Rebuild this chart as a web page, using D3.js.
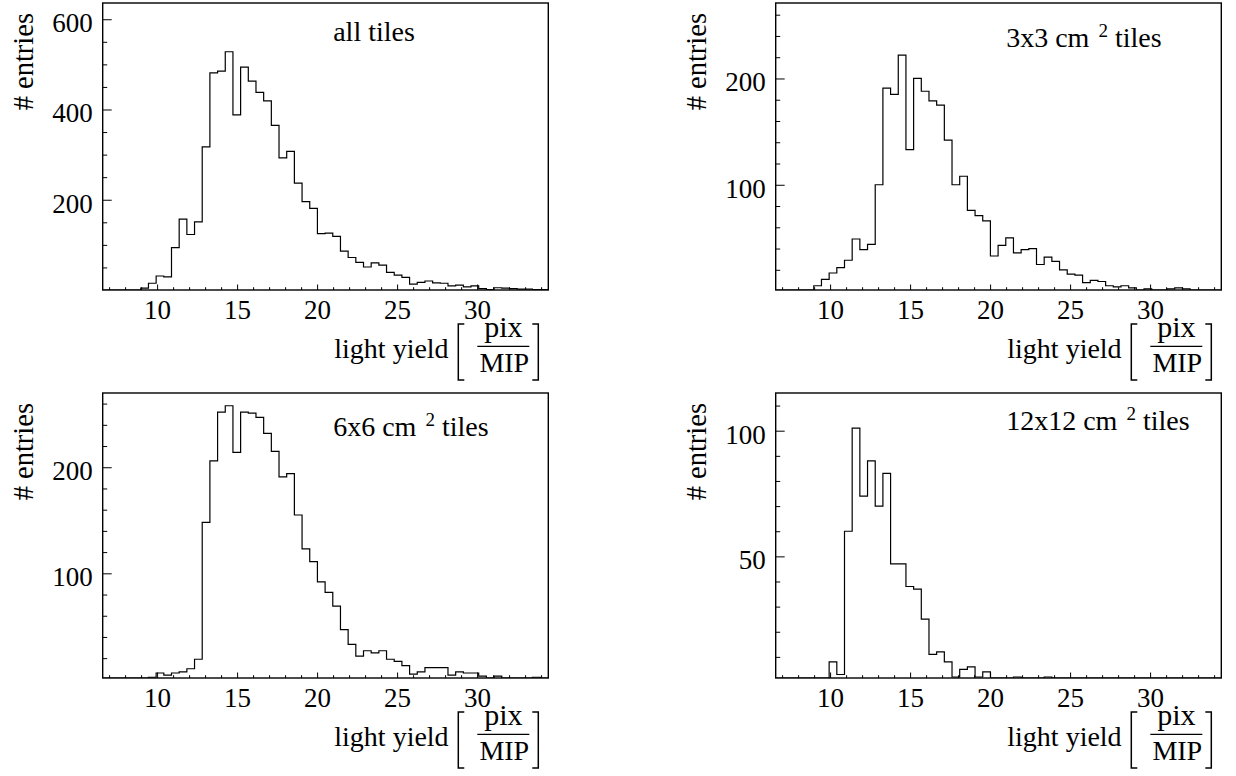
<!DOCTYPE html>
<html><head><meta charset="utf-8">
<script src="https://cdn.jsdelivr.net/npm/d3@7"></script>
<style>
body{margin:0;background:#fff}
svg{display:block}
text{font-family:"Liberation Serif","Times New Roman",serif;fill:#000}
</style>
</head><body>
<svg id="chart" width="1236" height="776"></svg>
<script>
// ---- data ----
const binStart = 8.98;   // lower edge of first listed bin (pix/MIP)
const binWidth = 0.48;   // bin width (pix/MIP)

const countsAll = [4,15,31,29,94,157,123,151,317,481,485,528,388,494,463,438,419,365,293,307,237,196,181,125,126,119,86,72,61,51,60,55,39,33,28,13,17,20,16,15,9,11,7,9,3,1,5,4,3,2,2,1,1,1];
const counts3x3 = [5,11,17,22,29,49,39,44,100,191,185,222,133,200,188,179,175,142,100,108,76,71,66,33,43,50,36,39,40,25,32,28,20,16,15,8,10,9,5,4,5,3,1,2,0,0,2,3,2,1,1,0,0,0];
const counts6x6 = [0,2,6,4,6,7,10,19,148,206,252,258,214,252,251,247,232,215,191,194,155,123,111,92,82,69,47,33,22,27,25,27,19,17,13,5,7,11,11,11,4,7,6,6,3,1,3,1,1,1,1,2,0,0];
const counts12x12 = [0,0,8,3,60,101,74,88,70,83,47,47,38,37,25,11,12,8,2,5,6,2,4,0,0,0,2,0,0,0,2,0,0,0,0,0,0,0,0,0,0,0,0,0,0,0,0,0,0,0,0,0,0,0];

const xDomain = [6.6, 34.45];
const xMajorTicks = [10, 15, 20, 25, 30];
const xMinorTicks = [7,8,9,11,12,13,14,16,17,18,19,21,22,23,24,26,27,28,29,31,32,33,34];

const panelTitles = ["all tiles", "3x3 cm", "6x6 cm", "12x12 cm"];
const panelTitleSup = [null, "2", "2", "2"];
const panelTitleTail = [null, "tiles", "tiles", "tiles"];

const yDomains = [[0, 636], [1, 271], [1.3, 270], [1.6, 115]];
const yMajorTicks = [[200, 400, 600], [100, 200], [100, 200], [50, 100]];
const yMinorTicks = [
  [50, 100, 150, 250, 300, 350, 450, 500, 550],
  [20, 40, 60, 80, 120, 140, 160, 180, 220, 240, 260],
  [20, 40, 60, 80, 120, 140, 160, 180, 220, 240, 260],
  [10, 20, 30, 40, 60, 70, 80, 90, 110]
];
const seriesList = [countsAll, counts3x3, counts6x6, counts12x12];

const yTitle = "# entries";
const xTitle = "light yield";
const xUnitNum = "pix";
const xUnitDen = "MIP";

// ---- layout ----
const frames = [
  {x0: 102.7, x1: 548.3, y0: 3, y1: 290},
  {x0: 775.7, x1: 1221.3, y0: 3, y1: 290},
  {x0: 102.7, x1: 548.3, y0: 393, y1: 678},
  {x0: 775.7, x1: 1221.3, y0: 393, y1: 678}
];
const titleBaseline = [37.7, 43.7, 43.4, 37];

const svg = d3.select("#chart");
svg.append("rect").attr("width", 1236).attr("height", 776).attr("fill", "#fff");

frames.forEach((f, i) => {
  const g = svg.append("g");
  const x = d3.scaleLinear().domain(xDomain).range([f.x0, f.x1]);
  const y = d3.scaleLinear().domain(yDomains[i]).range([f.y1, f.y0]).clamp(true);

  // clip
  const cid = "clip" + i;
  svg.append("clipPath").attr("id", cid).append("rect")
    .attr("x", f.x0).attr("y", f.y0).attr("width", f.x1 - f.x0).attr("height", f.y1 - f.y0);

  // histogram
  const counts = seriesList[i];
  const pts = [[xDomain[0], 0]];
  counts.forEach((c, k) => pts.push([binStart + k * binWidth, c]));
  pts.push([binStart + counts.length * binWidth, 0]);
  const line = d3.line().x(d => x(d[0])).y(d => y(d[1])).curve(d3.curveStepAfter);
  g.append("path").attr("d", line(pts)).attr("fill", "none")
    .attr("stroke", "#000").attr("stroke-width", 1.2).attr("clip-path", `url(#${cid})`);

  // x axis major
  const xa = g.append("g").attr("transform", `translate(0,${f.y1})`)
    .call(d3.axisBottom(x).tickValues(xMajorTicks).tickSize(-5.5).tickPadding(10).tickFormat(d3.format("d")));
  xa.select(".domain").remove();
  xa.selectAll("line").attr("stroke", "#000").attr("stroke-width", 1);
  xa.selectAll("text").attr("font-size", 27).attr("font-family", "Liberation Serif").attr("fill", "#000");
  const xm = g.append("g").attr("transform", `translate(0,${f.y1})`)
    .call(d3.axisBottom(x).tickValues(xMinorTicks).tickSize(-2.8).tickFormat(""));
  xm.select(".domain").remove();
  xm.selectAll("line").attr("stroke", "#000").attr("stroke-width", 1);

  // y axis major
  const ya = g.append("g").attr("transform", `translate(${f.x0},0)`)
    .call(d3.axisLeft(y).tickValues(yMajorTicks[i]).tickSize(-9).tickPadding(10).tickFormat(d3.format("d")));
  ya.select(".domain").remove();
  ya.selectAll("line").attr("stroke", "#000").attr("stroke-width", 1);
  ya.selectAll("text").attr("font-size", 27).attr("font-family", "Liberation Serif").attr("fill", "#000").attr("dy", 12.5);
  const ym = g.append("g").attr("transform", `translate(${f.x0},0)`)
    .call(d3.axisLeft(y).tickValues(yMinorTicks[i]).tickSize(-4.5).tickFormat(""));
  ym.select(".domain").remove();
  ym.selectAll("line").attr("stroke", "#000").attr("stroke-width", 1);

  // frame
  g.append("rect").attr("x", f.x0).attr("y", f.y0).attr("width", f.x1 - f.x0).attr("height", f.y1 - f.y0)
    .attr("fill", "none").attr("stroke", "#000").attr("stroke-width", 1.4);

  // panel title
  const t = g.append("text").attr("x", f.x0 + 230.5).attr("y", f.y0 + titleBaseline[i]).attr("font-size", 28)
    .text(panelTitles[i]);
  if (panelTitleSup[i]) {
    t.append("tspan").attr("dx", 9).attr("dy", -10).attr("font-size", 19).text(panelTitleSup[i]);
    t.append("tspan").attr("dx", 7).attr("dy", 10).attr("font-size", 28).text(panelTitleTail[i]);
  }

  // y title
  g.append("text").attr("transform", `translate(${f.x0 - 69.5},${f.y0 + 10}) rotate(-90)`)
    .attr("text-anchor", "end").attr("font-size", 28.5).text(yTitle);

  // x title
  const xr = f.x1, yb = f.y1;
  g.append("text").attr("x", xr - 214).attr("y", yb + 68).attr("font-size", 28).text(xTitle);
  g.append("path").attr("d", `M${xr-84},${yb+34}H${xr-90}V${yb+90}H${xr-84}`)
    .attr("fill", "none").attr("stroke", "#000").attr("stroke-width", 1.5);
  g.append("path").attr("d", `M${xr-16},${yb+34}H${xr-10}V${yb+90}H${xr-16}`)
    .attr("fill", "none").attr("stroke", "#000").attr("stroke-width", 1.5);
  g.append("text").attr("x", xr - 45).attr("y", yb + 47).attr("text-anchor", "middle")
    .attr("font-size", 30).text(xUnitNum);
  g.append("line").attr("x1", xr - 71).attr("x2", xr - 19).attr("y1", yb + 56.3).attr("y2", yb + 56.3)
    .attr("stroke", "#000").attr("stroke-width", 1.3);
  g.append("text").attr("x", xr - 44).attr("y", yb + 82).attr("text-anchor", "middle")
    .attr("font-size", 28).text(xUnitDen);
});
</script>
</body></html>
